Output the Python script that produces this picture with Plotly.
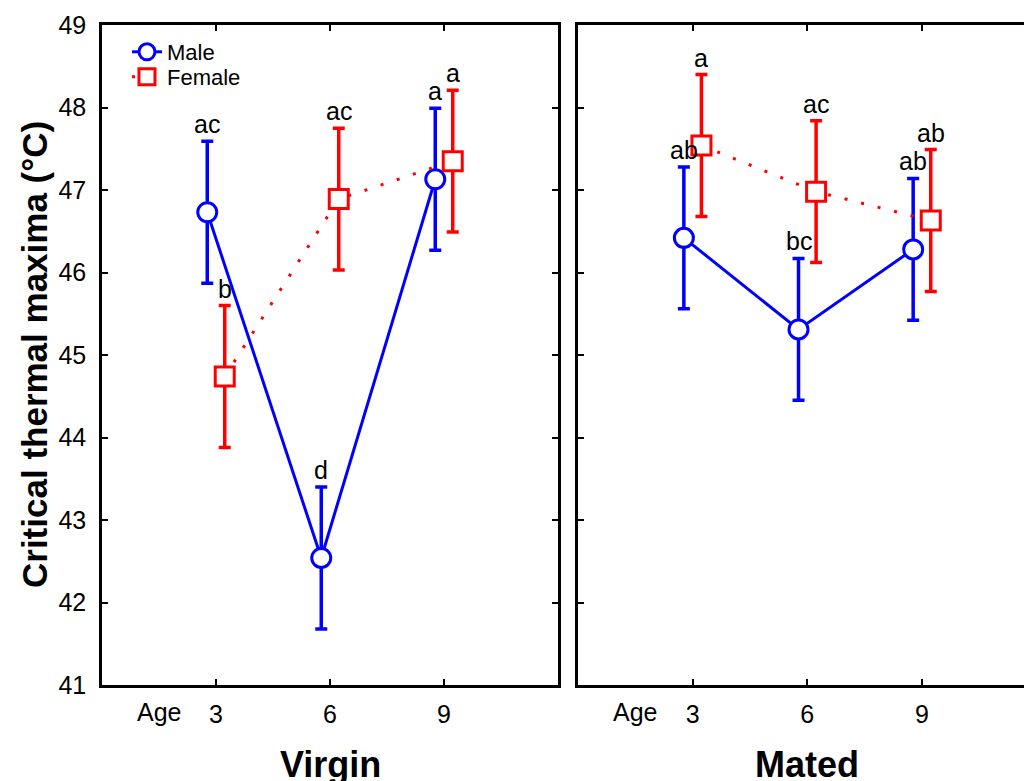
import plotly.graph_objects as go

ages = [3, 6, 9]
offset = 0.23

virgin_male = [46.73, 42.54, 47.13]
virgin_male_err = [0.86, 0.86, 0.86]
virgin_female = [44.74, 46.89, 47.35]
virgin_female_err = [0.86, 0.86, 0.86]
mated_male = [46.42, 45.31, 46.28]
mated_male_err = [0.86, 0.86, 0.86]
mated_female = [47.54, 46.98, 46.63]
mated_female_err = [0.86, 0.86, 0.86]

virgin_male_letters = ["ac", "d", "a"]
virgin_female_letters = ["b", "ac", "a"]
mated_male_letters = ["ab", "bc", "ab"]
mated_female_letters = ["a", "ac", "ab"]

BLUE = "#0000FF"
RED = "#FF0000"
FONT = "Liberation Sans, Arial, sans-serif"

fig = go.Figure()

def add_series(vals, errs, sign, color, symbol, dash, name, xa, ya, show, leg):
    xs = [a + sign * offset for a in ages]
    fig.add_trace(go.Scatter(
        x=xs, y=vals, mode="lines+markers", name=name, showlegend=show, legend=leg,
        line=dict(color=color, width=3, dash=dash),
        marker=dict(symbol=symbol, size=19, color="white", line=dict(color=color, width=3)),
        error_y=dict(type="data", array=errs, visible=True, color=color, thickness=3.5, width=6),
        xaxis=xa, yaxis=ya,
    ))

add_series(virgin_male, virgin_male_err, -1, BLUE, "circle", "solid", "Male", "x", "y", True, "legend")
add_series(virgin_female, virgin_female_err, 1, RED, "square", "3px,14px", "Female", "x", "y", True, "legend2")
add_series(mated_male, mated_male_err, -1, BLUE, "circle", "solid", "Male", "x2", "y2", False, "legend")
add_series(mated_female, mated_female_err, 1, RED, "square", "3px,14px", "Female", "x2", "y2", False, "legend2")

annotations = []
def add_letters(vals, errs, letters, sign, xref, yref):
    for a, v, e, t in zip(ages, vals, errs, letters):
        annotations.append(dict(x=a + sign * offset, y=v + e, xref=xref, yref=yref, text=t,
                                showarrow=False, yanchor="bottom", yshift=1,
                                font=dict(size=25, color="black", family=FONT)))

add_letters(virgin_male, virgin_male_err, virgin_male_letters, -1, "x", "y")
add_letters(virgin_female, virgin_female_err, virgin_female_letters, 1, "x", "y")
add_letters(mated_male, mated_male_err, mated_male_letters, -1, "x2", "y2")
add_letters(mated_female, mated_female_err, mated_female_letters, 1, "x2", "y2")

for xr in ["x", "x2"]:
    annotations.append(dict(x=1.5, y=1 - 712 / 781, xref=xr, yref="paper", text="Age", showarrow=False,
                            yanchor="middle", font=dict(size=25, color="black", family=FONT)))
annotations.append(dict(x=6, y=1 - 764 / 781, xref="x", yref="paper", text="<b>Virgin</b>",
                        yanchor="middle", showarrow=False, font=dict(size=36, color="black", family=FONT)))
annotations.append(dict(x=6, y=1 - 764 / 781, xref="x2", yref="paper", text="<b>Mated</b>",
                        yanchor="middle", showarrow=False, font=dict(size=36, color="black", family=FONT)))
annotations.append(dict(x=34 / 1024, y=1 - 355 / 781, xref="paper", yref="paper",
                        xanchor="center", yanchor="middle",
                        text="<b>Critical thermal maxima (°C)</b>", textangle=-90,
                        showarrow=False, font=dict(size=35, color="black", family=FONT)))

ydom = [1 - 685 / 781, 1 - 25 / 781]
axis_common = dict(showgrid=False, zeroline=False, showline=True, linecolor="black", linewidth=2.5,
                   ticks="inside", ticklen=6, tickwidth=2, tickcolor="black", automargin=False,
                   tickfont=dict(size=25, color="black", family=FONT))

legend_common = dict(xanchor="left", yanchor="middle", bgcolor="rgba(0,0,0,0)",
                     font=dict(size=22, color="black", family=FONT), itemwidth=30)

fig.update_layout(
    width=1024, height=781,
    margin=dict(l=0, r=0, t=0, b=0),
    paper_bgcolor="white", plot_bgcolor="white",
    xaxis=dict(domain=[102 / 1024, 558 / 1024], range=[0, 12], tickvals=ages,
               ticktext=[str(a) for a in ages], mirror="ticks", anchor="y",
               ticklabelstandoff=5, **axis_common),
    yaxis=dict(domain=ydom, range=[41, 49], dtick=1, mirror="ticks", anchor="x",
               ticklabelstandoff=8, **axis_common),
    xaxis2=dict(domain=[578 / 1024, 1.0], range=[0, 11.67], tickvals=ages,
                ticktext=[str(a) for a in ages], mirror="ticks", anchor="y2",
                ticklabelstandoff=5, **axis_common),
    yaxis2=dict(domain=ydom, range=[41, 49], dtick=1, showticklabels=False, mirror=False,
                anchor="x2", **axis_common),
    legend=dict(x=0.124, y=1 - 52 / 781, **legend_common),
    legend2=dict(x=0.124, y=1 - 77 / 781, **legend_common),
    annotations=annotations,
    showlegend=True,
)

fig.write_html("out.html")
